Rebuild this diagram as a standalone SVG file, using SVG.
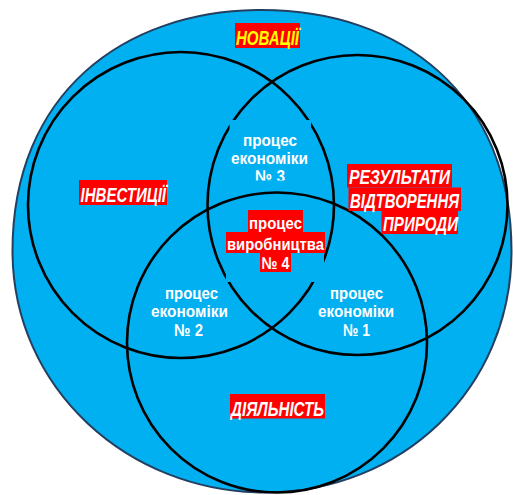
<svg xmlns="http://www.w3.org/2000/svg" width="513" height="495" viewBox="0 0 513 495">
<defs>
<style>
.ring{fill:none;stroke:#000;stroke-width:2.6}
.mask{fill:#00B0F0;stroke:none}
.hl{fill:#FF0000}
.w{font-family:"Liberation Sans",Arial,sans-serif;font-weight:bold;font-size:17px;fill:#fff;text-anchor:middle}
.lbl{font-family:"Liberation Sans",Arial,sans-serif;font-weight:bold;font-style:italic;font-size:21px;fill:#fff}
</style>
<clipPath id="clip3"><rect x="200" y="100" width="140" height="80.5"/></clipPath>
</defs>
<g id="outer">
<path d="M262,10 C401,10 511.5,94 511.5,251 C511.5,389 401,492.5 265,492.5 C129,492.5 12.5,389 12.5,251 C12.5,94 123,10 262,10 Z" fill="#00B0F0" stroke="#243F60" stroke-width="2"/>
</g>
<g id="circle-investments"><circle class="ring" cx="181" cy="205" r="153"/></g>
<g id="circle-results"><circle class="ring" cx="357.5" cy="205" r="150"/></g>
<g id="masks">
<rect class="mask" x="229.5" y="120" width="81.5" height="60.5"/>
<rect class="mask" x="226" y="203" width="98" height="79"/>
</g>
<g id="circle-activity"><circle class="ring" cx="277" cy="342.5" r="150"/></g>

<g id="label-novatsii">
<rect class="hl" x="235" y="23" width="65" height="25"/>
<text class="lbl" x="236" y="45" textLength="63" lengthAdjust="spacingAndGlyphs" style="fill:#FFFF00">НОВАЦІЇ</text>
</g>
<g id="label-investytsii">
<rect class="hl" x="79" y="180" width="88" height="25"/>
<text class="lbl" x="80.5" y="202" textLength="85.5" lengthAdjust="spacingAndGlyphs">ІНВЕСТИЦІЇ</text>
</g>
<g id="label-rezultaty">
<rect class="hl" x="347" y="164" width="105" height="23.5"/>
<rect class="hl" x="348.5" y="187.5" width="112.5" height="23.5"/>
<rect class="hl" x="381.5" y="211" width="76.5" height="23"/>
<text class="lbl" x="349" y="184" textLength="101" lengthAdjust="spacingAndGlyphs">РЕЗУЛЬТАТИ</text>
<text class="lbl" x="350" y="208" textLength="109" lengthAdjust="spacingAndGlyphs">ВІДТВОРЕННЯ</text>
<text class="lbl" x="383" y="231" textLength="75" lengthAdjust="spacingAndGlyphs">ПРИРОДИ</text>
</g>
<g id="label-diialnist">
<rect class="hl" x="230" y="394" width="95" height="24.5"/>
<text class="lbl" x="231" y="415.5" textLength="93" lengthAdjust="spacingAndGlyphs">ДІЯЛЬНІСТЬ</text>
</g>

<g id="process-3" clip-path="url(#clip3)">
<text class="w" x="270" y="145.5" textLength="54" lengthAdjust="spacingAndGlyphs">процес</text>
<text class="w" x="269.5" y="163.5" textLength="77" lengthAdjust="spacingAndGlyphs">економіки</text>
<text class="w" x="270" y="181.5" textLength="30" lengthAdjust="spacingAndGlyphs">№ 3</text>
</g>
<g id="process-4">
<rect class="hl" x="248" y="210" width="55" height="22"/>
<rect class="hl" x="226" y="232" width="99" height="21"/>
<rect class="hl" x="260" y="253" width="31" height="19"/>
<text class="w" x="275.5" y="229" textLength="53" lengthAdjust="spacingAndGlyphs">процес</text>
<text class="w" x="275.5" y="250" textLength="97" lengthAdjust="spacingAndGlyphs">виробництва</text>
<text class="w" x="275.5" y="269" textLength="28" lengthAdjust="spacingAndGlyphs">№ 4</text>
</g>
<g id="process-2">
<text class="w" x="191.5" y="298.5" textLength="53" lengthAdjust="spacingAndGlyphs">процес</text>
<text class="w" x="189.5" y="317" textLength="77" lengthAdjust="spacingAndGlyphs">економіки</text>
<text class="w" x="188.5" y="335.5" textLength="29" lengthAdjust="spacingAndGlyphs">№ 2</text>
</g>
<g id="process-1">
<text class="w" x="356.5" y="298.5" textLength="53" lengthAdjust="spacingAndGlyphs">процес</text>
<text class="w" x="356" y="317" textLength="76" lengthAdjust="spacingAndGlyphs">економіки</text>
<text class="w" x="356.5" y="335.5" textLength="27" lengthAdjust="spacingAndGlyphs">№ 1</text>
</g>
</svg>
